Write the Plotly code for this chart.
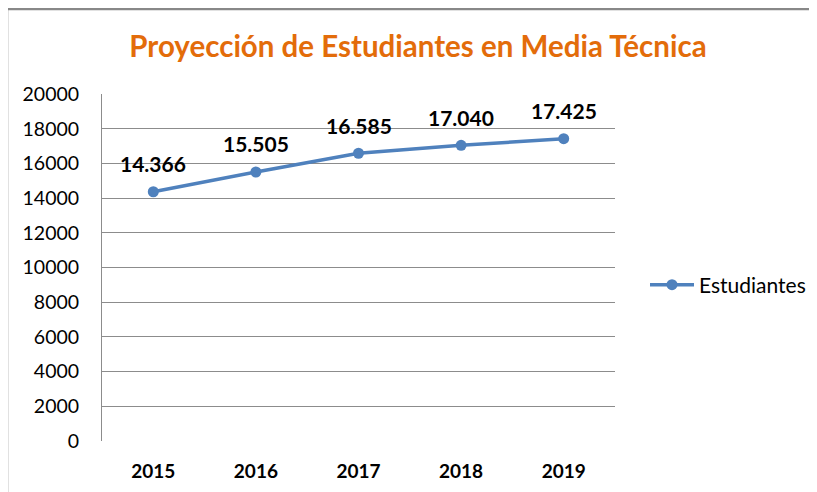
import plotly.graph_objects as go

years = [2015, 2016, 2017, 2018, 2019]
students = [14366, 15505, 16585, 17040, 17425]
y_ticks = list(range(0, 20001, 2000))

O = 8  # page body offset
W, H = 817 - O, 492 - O
# plot area in reference pixels: x 102..615, y 94..441
L, R, T, B = 102 - O, W - (615 - O), 94 - O, H - (441 - O)
pw, ph = W - L - R, H - T - B

def px_x(p):
    return (p - O - L) / pw

def px_y(p):
    return (H - B - (p - O)) / ph

FONT = "Lato, Open Sans, sans-serif"

fig = go.Figure()
fig.add_trace(go.Scatter(
    x=years, y=students, mode="lines+markers", name="Estudiantes",
    line=dict(color="#4F81BD", width=3.5),
    marker=dict(color="#4F81BD", size=11),
))

for x, y in zip(years, students):
    fig.add_annotation(x=x, y=y, text="<b>" + f"{y:,}".replace(",", ".") + "</b>",
                       showarrow=False, yshift=28,
                       font=dict(family=FONT, size=21, color="#000000"))

fig.update_layout(
    width=W, height=H,
    margin=dict(l=L, r=R, t=T, b=B, autoexpand=False),
    paper_bgcolor="white", plot_bgcolor="white",
    title=dict(text="<b>Proyección de Estudiantes en Media Técnica</b>",
               x=(418 - O) / W, xref="container", xanchor="center",
               y=1 - (47 - O) / H, yref="container", yanchor="middle",
               font=dict(family=FONT, size=29.5, color="#E36C0A")),
    showlegend=True,
    legend=dict(x=(645 - O) / W, xref="container",
                y=1 - (285 - O) / H, yref="container",
                xanchor="left", yanchor="middle",
                font=dict(family=FONT, size=21, color="#000000"),
                bgcolor="rgba(0,0,0,0)", itemwidth=44),
    xaxis=dict(range=[2014.5, 2019.5], tickvals=years, showgrid=False,
               showline=False, zeroline=False, ticks="",
               tickfont=dict(family=FONT, size=19, color="#000000", weight="bold"),
               ticklabelstandoff=17),
    yaxis=dict(range=[0, 20000], tickvals=y_ticks, tickformat="d",
               showgrid=True, gridcolor="#8C8C8C", gridwidth=1,
               zeroline=False, showline=True, linecolor="#8C8C8C", linewidth=1,
               ticks="",
               tickfont=dict(family=FONT, size=19.5, color="#000000"),
               ticklabelstandoff=18),
    shapes=[
        dict(type="line", xref="paper", yref="paper", x0=px_x(7), x1=px_x(814),
             y0=px_y(9), y1=px_y(9), line=dict(color="#888888", width=2.5)),
        dict(type="line", xref="paper", yref="paper", x0=px_x(7), x1=px_x(7),
             y0=px_y(9), y1=px_y(495), line=dict(color="#888888", width=2.5)),
    ],
)

fig.write_html("out.html")
